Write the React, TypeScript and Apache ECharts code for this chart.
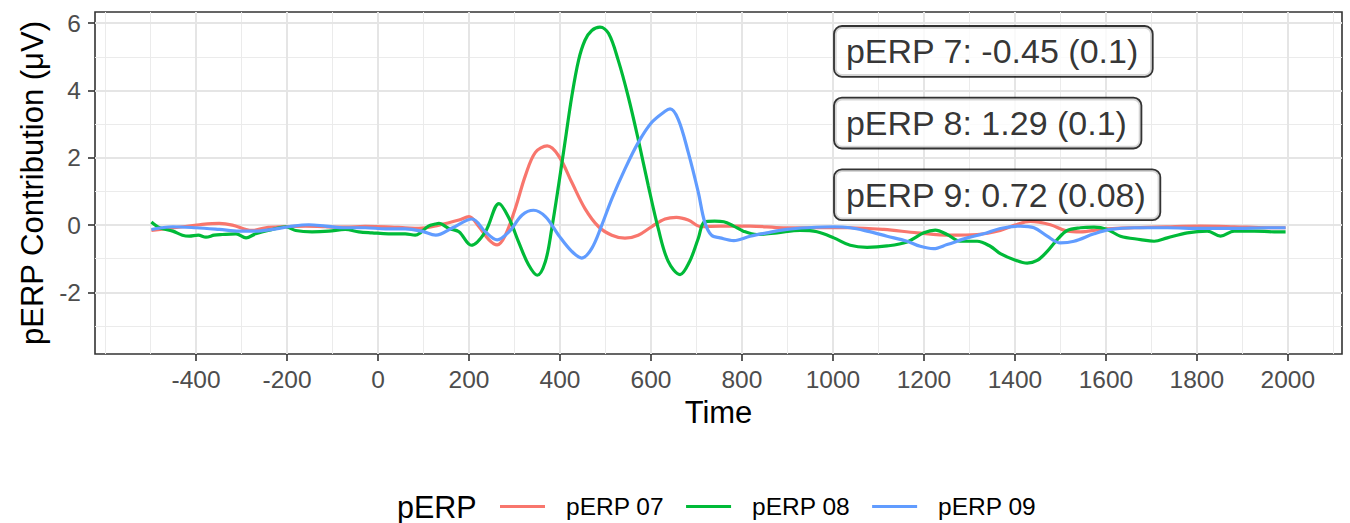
import React, { useEffect, useRef } from "react";
import * as echarts from "echarts";

// ---- data ----
const erp07Time = [-498, -466, -429, -393, -349, -320, -290, -276, -247, -203, -159, -115, -72, -28, 16, 60, 90, 134, 178, 200, 222, 244, 262, 280, 302, 324, 346, 372, 397, 426, 455, 485, 514, 543, 572, 601, 631, 656, 682, 711, 752, 818, 891, 965, 1038, 1112, 1185, 1258, 1317, 1368, 1400, 1434, 1478, 1515, 1544, 1588, 1662, 1735, 1808, 1882, 1955, 1995];
const erp07Value = [-0.16, -0.11, -0.05, 0.01, 0.05, 0.0, -0.13, -0.16, -0.08, -0.05, -0.03, -0.05, -0.06, -0.04, -0.05, -0.08, -0.1, 0.0, 0.15, 0.25, -0.05, -0.44, -0.59, -0.3, 0.5, 1.47, 2.16, 2.35, 2.06, 1.27, 0.49, -0.05, -0.3, -0.39, -0.3, -0.05, 0.18, 0.23, 0.15, -0.05, -0.03, -0.03, -0.08, -0.08, -0.08, -0.13, -0.23, -0.3, -0.28, -0.16, 0.0, 0.11, 0.01, -0.18, -0.2, -0.13, -0.08, -0.05, -0.03, -0.05, -0.08, -0.08];

const erp08Time = [-498, -480, -451, -430, -415, -395, -378, -360, -342, -312, -290, -269, -232, -203, -181, -145, -108, -72, -42, -13, 23, 60, 82, 93, 111, 126, 134, 156, 178, 205, 236, 266, 288, 309, 331, 350, 368, 382, 397, 412, 426, 441, 455, 470, 488, 507, 528, 550, 572, 594, 616, 638, 664, 685, 704, 718, 740, 760, 782, 803, 833, 877, 928, 965, 1002, 1038, 1075, 1119, 1163, 1200, 1225, 1251, 1280, 1317, 1346, 1368, 1397, 1427, 1449, 1471, 1493, 1515, 1544, 1574, 1603, 1632, 1676, 1706, 1735, 1779, 1823, 1852, 1882, 1926, 1970, 1995];
const erp08Value = [0.09, -0.08, -0.18, -0.3, -0.33, -0.3, -0.36, -0.3, -0.28, -0.26, -0.38, -0.26, -0.13, -0.05, -0.16, -0.2, -0.18, -0.13, -0.2, -0.23, -0.26, -0.26, -0.3, -0.23, -0.03, 0.03, 0.05, -0.1, -0.2, -0.6, -0.2, 0.64, 0.2, -0.5, -1.18, -1.49, -1.08, -0.1, 1.18, 2.55, 3.82, 4.9, 5.49, 5.78, 5.88, 5.69, 4.9, 3.82, 2.55, 1.18, -0.1, -1.08, -1.47, -1.08, -0.4, 0.1, 0.12, 0.1, -0.03, -0.18, -0.28, -0.23, -0.16, -0.2, -0.38, -0.6, -0.66, -0.62, -0.5, -0.23, -0.15, -0.28, -0.48, -0.48, -0.63, -0.85, -1.02, -1.13, -1.05, -0.78, -0.43, -0.16, -0.08, -0.06, -0.13, -0.33, -0.43, -0.48, -0.38, -0.23, -0.18, -0.33, -0.18, -0.18, -0.2, -0.2];

const erp09Time = [-498, -451, -400, -349, -305, -269, -232, -196, -152, -115, -72, -28, 16, 60, 96, 127, 164, 207, 236, 262, 288, 317, 342, 368, 397, 426, 448, 470, 492, 514, 543, 572, 601, 631, 642, 660, 682, 704, 718, 733, 752, 782, 818, 855, 899, 943, 1002, 1038, 1075, 1119, 1163, 1192, 1221, 1251, 1295, 1331, 1368, 1412, 1442, 1471, 1500, 1530, 1574, 1610, 1662, 1735, 1808, 1882, 1955, 1995];
const erp09Value = [-0.13, -0.05, -0.08, -0.13, -0.18, -0.18, -0.13, -0.05, 0.01, -0.03, -0.08, -0.08, -0.11, -0.11, -0.18, -0.3, -0.08, 0.18, -0.2, -0.44, -0.2, 0.3, 0.44, 0.25, -0.3, -0.78, -0.98, -0.69, 0.0, 0.78, 1.67, 2.45, 3.04, 3.38, 3.45, 3.14, 2.16, 0.98, 0.1, -0.3, -0.38, -0.46, -0.33, -0.23, -0.13, -0.08, -0.05, -0.08, -0.18, -0.33, -0.48, -0.63, -0.7, -0.58, -0.38, -0.26, -0.1, -0.03, -0.08, -0.33, -0.53, -0.48, -0.26, -0.13, -0.08, -0.08, -0.1, -0.1, -0.08, -0.08];

const seriesNames = ["pERP 07", "pERP 08", "pERP 09"];
const seriesColors = ["#F8766D", "#00BA38", "#619CFF"];

const annotationText = ["pERP 7: -0.45 (0.1)", "pERP 8: 1.29 (0.1)", "pERP 9: 0.72 (0.08)"];
const annotationX = [1000, 1000, 1000];
const annotationY = [5.16, 3.03, 0.9];

const xTicks = [-400, -200, 0, 200, 400, 600, 800, 1000, 1200, 1400, 1600, 1800, 2000];
const xMinorGrid = [-600, -500, -300, -100, 100, 300, 500, 700, 900, 1100, 1300, 1500, 1700, 1900, 2100];
const yTicks = [-2, 0, 2, 4, 6];
const yMinorGrid = [-3, -1, 1, 3, 5];
const xRange = [-622, 2119];
const yRange = [-3.83, 6.33];

const FONT = "'Liberation Sans', Arial, Helvetica, sans-serif";

function pairs(t: number[], v: number[]) {
  return t.map((x, i) => [x, v[i]]);
}

export default function App() {
  const ref = useRef<HTMLDivElement>(null);
  useEffect(() => {
    if (!ref.current) return;
    const chart = echarts.init(ref.current, null, { renderer: "svg" });
    const gridLine = (vals: number[], axis: "xAxis" | "yAxis") =>
      vals.map((v) => ({ [axis]: v }));
    const option: any = {
      animation: false,
      backgroundColor: "#ffffff",
      textStyle: { fontFamily: FONT },
      grid: {
        left: 95,
        right: 8,
        top: 12,
        bottom: 169,
        show: true,
        borderColor: "#333333",
        borderWidth: 1.6,
        backgroundColor: "transparent",
      },
      xAxis: {
        type: "value",
        min: xRange[0],
        max: xRange[1],
        axisLine: { show: false, onZero: false },
        splitLine: { show: false },
        axisTick: {
          show: true,
          customValues: xTicks,
          length: 7,
          lineStyle: { color: "#333333", width: 1.6 },
        },
        axisLabel: {
          customValues: xTicks,
          formatter: (v: number) => String(v),
          margin: 13,
          fontSize: 24.5,
          color: "#4d4d4d",
          fontFamily: FONT,
        },
        name: "Time",
        nameLocation: "middle",
        nameGap: 40,
        nameTextStyle: { fontSize: 31, color: "#000000", fontFamily: FONT },
      },
      yAxis: {
        type: "value",
        min: yRange[0],
        max: yRange[1],
        axisLine: { show: false, onZero: false },
        splitLine: { show: false },
        axisTick: {
          show: true,
          customValues: yTicks,
          length: 7,
          lineStyle: { color: "#333333", width: 1.6 },
        },
        axisLabel: {
          customValues: yTicks,
          formatter: (v: number) => String(v),
          margin: 14,
          fontSize: 24.5,
          color: "#4d4d4d",
          fontFamily: FONT,
        },
        name: "pERP Contribution (μV)",
        nameLocation: "middle",
        nameGap: 47,
        nameTextStyle: { fontSize: 31, color: "#000000", fontFamily: FONT },
      },
      legend: {
        data: seriesNames,
        left: 500,
        top: 494,
        padding: 0,
        icon: "rect",
        itemWidth: 45,
        itemHeight: 3,
        itemGap: 22,
        textStyle: { fontSize: 24.5, color: "#000000", fontFamily: FONT, padding: [0, 0, 0, 16] },
      },
      graphic: [
        {
          type: "text",
          x: 397,
          y: 507,
          style: {
            text: "pERP",
            fontSize: 30.5,
            fontFamily: FONT,
            fill: "#000000",
            verticalAlign: "middle",
            align: "left",
          },
        },
      ],
      series: [
        {
          name: "gridMinor",
          type: "line",
          data: [],
          silent: true,
          z: 0,
          markLine: {
            silent: true,
            z: 0,
            symbol: ["none", "none"],
            label: { show: false },
            lineStyle: { color: "#ebebeb", width: 1, type: "solid" },
            data: [...gridLine(xMinorGrid, "xAxis"), ...gridLine(yMinorGrid, "yAxis")],
          },
        },
        {
          name: "gridMajor",
          type: "line",
          data: [],
          silent: true,
          z: 0,
          markLine: {
            silent: true,
            z: 0,
            symbol: ["none", "none"],
            label: { show: false },
            lineStyle: { color: "#e5e5e5", width: 2, type: "solid" },
            data: [...gridLine(xTicks, "xAxis"), ...gridLine(yTicks, "yAxis")],
          },
        },
        ...[
          pairs(erp07Time, erp07Value),
          pairs(erp08Time, erp08Value),
          pairs(erp09Time, erp09Value),
        ].map((d, i) => ({
          name: seriesNames[i],
          type: "line",
          data: d,
          showSymbol: false,
          symbol: "none",
          smooth: 0.35,
          z: 3,
          color: seriesColors[i],
          lineStyle: { color: seriesColors[i], width: 3.2 },
        })),
        {
          name: "annotations",
          type: "scatter",
          z: 10,
          symbolSize: 0,
          silent: true,
          data: annotationText.map((t, i) => [annotationX[i], annotationY[i], t]),
          label: {
            show: true,
            position: "right",
            distance: 2,
            formatter: (p: any) => p.data[2],
            fontSize: 34,
            fontFamily: FONT,
            color: "#000000",
            backgroundColor: "#ffffff",
            borderColor: "#000000",
            borderWidth: 1.8,
            borderRadius: 7,
            padding: [6, 13, 5, 11],
            lineHeight: 38,
          },
        },
      ],
    };
    chart.setOption(option);
    return () => chart.dispose();
  }, []);
  return (
    <div
      ref={ref}
      style={{ position: "fixed", left: 0, top: 0, width: 1350, height: 523, background: "#fff" }}
    />
  );
}
